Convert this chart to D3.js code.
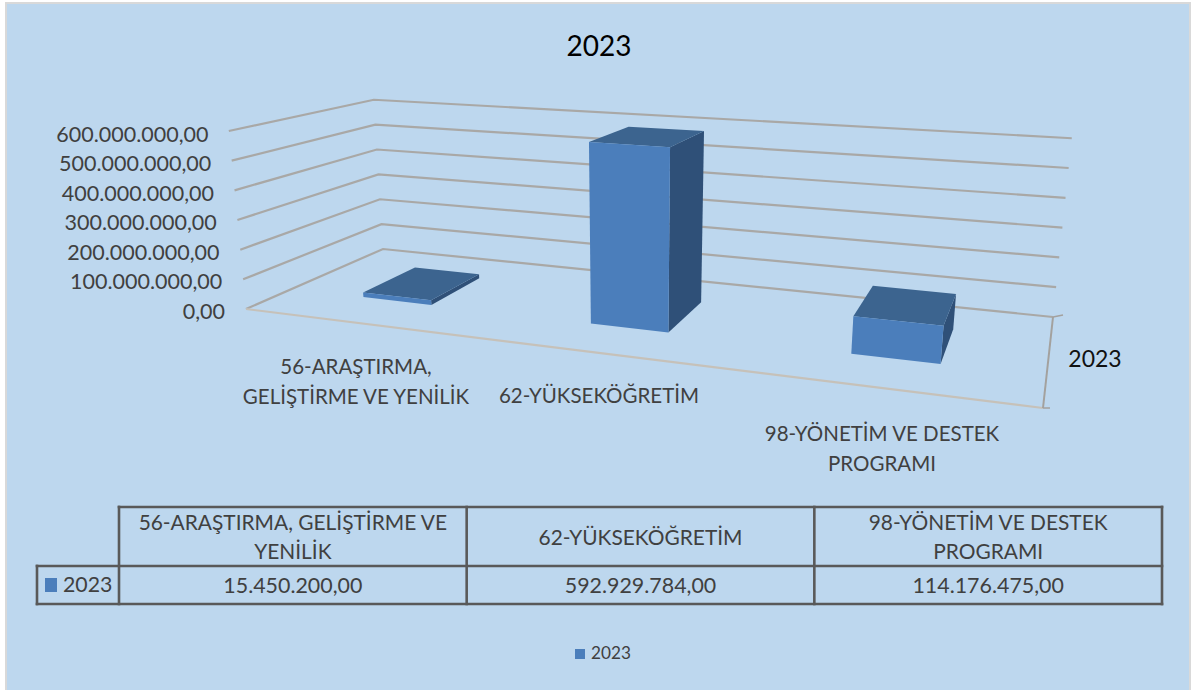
<!DOCTYPE html>
<html><head><meta charset="utf-8">
<script src="https://cdnjs.cloudflare.com/ajax/libs/d3/7.8.5/d3.min.js"></script>
<style>
html,body{margin:0;padding:0;background:#fff}
svg{display:block}
text{font-family:Lato,"Open Sans",sans-serif}
</style></head><body>
<svg id="c" width="1192" height="690"></svg>
<script>
const chartTitle = "2023";
const seriesName = "2023";
const categories = ["56-ARAŞTIRMA, GELİŞTİRME VE YENİLİK","62-YÜKSEKÖĞRETİM","98-YÖNETİM VE DESTEK PROGRAMI"];
const axisLabelLines = [["56-ARAŞTIRMA,","GELİŞTİRME VE YENİLİK"],["62-YÜKSEKÖĞRETİM"],["98-YÖNETİM VE DESTEK","PROGRAMI"]];
const tableHeaderLines = [["56-ARAŞTIRMA, GELİŞTİRME VE","YENİLİK"],["62-YÜKSEKÖĞRETİM"],["98-YÖNETİM VE DESTEK","PROGRAMI"]];
const values = [15450200, 592929784, 114176475];
const valueMax = 600000000;

const svg = d3.select("#c");
const fmt = d3.formatLocale({decimal:",",thousands:".",grouping:[3],currency:["",""]}).format(",.2f");

// frame
svg.append("rect").attr("x",6).attr("y",3).attr("width",1184).attr("height",690)
  .attr("fill","#bdd7ee").attr("stroke","#d9d9d9").attr("stroke-width",2);

// 3D projection: floor homography, verticals converge on a vanishing point below the chart
function homography(p00,p10,p11,p01){
  const dx1=p10[0]-p11[0],dx2=p01[0]-p11[0],sx=p00[0]-p10[0]+p11[0]-p01[0];
  const dy1=p10[1]-p11[1],dy2=p01[1]-p11[1],sy=p00[1]-p10[1]+p11[1]-p01[1];
  const den=dx1*dy2-dx2*dy1;
  const g=(sx*dy2-dx2*sy)/den,h=(dx1*sy-sx*dy1)/den;
  const a=p10[0]-p00[0]+g*p10[0],b=p01[0]-p00[0]+h*p01[0],c=p00[0];
  const d=p10[1]-p00[1]+g*p10[1],e=p01[1]-p00[1]+h*p01[1],f=p00[1];
  return (u,v)=>{const w=g*u+h*v+1;return [(a*u+b*v+c)/w,(d*u+e*v+f)/w,w];};
}
const floorH = homography([246,309],[1043,408],[1053,317],[383,249]);
const vanish = [633,4316];

const xBand = d3.scaleBand().domain(categories).range([-0.001,0.997]).paddingInner(0.6875).paddingOuter(0.34375);
const depth = d3.scaleLinear().domain([0,1]).range([0.3,0.71]);
const yVal  = d3.scaleLinear().domain([0,valueMax]).range([0,178]);
const proj = (u,v,val)=>{
  const [x,y,w]=floorH(u,v), h=yVal(val)/w;
  return [x+h*(x-vanish[0])/(vanish[1]-y),y-h];
};
const line = d3.line();
const ticks = yVal.ticks(6);

// gridlines
const gridG = svg.append("g").attr("fill","none").attr("stroke","#a9a8a6").attr("stroke-width",2.2);
gridG.selectAll("path").data(ticks).join("path")
  .attr("d",t=>line([proj(0,0,t),proj(0,1,t),proj(1,1,t)]));
// floor front edge and depth axis
svg.append("path").attr("d",line([proj(0,0,0),proj(1,0,0)])).attr("fill","none").attr("stroke","#c6c1b9").attr("stroke-width",2.2);
const fr=proj(1,0,0), br=proj(1,1,0);
svg.append("path").attr("d",line([br,fr])).attr("fill","none").attr("stroke","#a3a19e").attr("stroke-width",2);
svg.append("path").attr("d",line([br,[br[0]+10,br[1]-2]])).attr("fill","none").attr("stroke","#a3a19e").attr("stroke-width",1.5);
svg.append("path").attr("d",line([fr,[fr[0]+7,fr[1]]])).attr("fill","none").attr("stroke","#a3a19e").attr("stroke-width",1.5);

// value tick labels follow the slanted front edge of the wall
const tickLabelY = d3.scaleLinear().domain([0,valueMax]).range([311,134]);
const tickLabelX = d3.scaleLinear().domain([0,valueMax]).range([225,208.5]);
svg.append("g").attr("font-size",21.5).attr("fill","#404040").attr("text-anchor","end")
  .selectAll("text").data(ticks).join("text")
  .attr("x",t=>tickLabelX(t)).attr("y",t=>tickLabelY(t)).attr("dy","0.35em")
  .text(t=>fmt(t));

// bars
const bars = svg.append("g").selectAll("g").data(categories).join("g");
bars.each(function(cat,i){
  const u0=xBand(cat),u1=u0+xBand.bandwidth(),v0=depth(0),v1=depth(1),val=values[i];
  const g=d3.select(this);
  const P=(u,v,w)=>proj(u,v,w);
  g.append("path").attr("fill","#2f5078").attr("d",line([P(u1,v0,0),P(u1,v1,0),P(u1,v1,val),P(u1,v0,val)])+"Z");
  g.append("path").attr("fill","#3c648f").attr("d",line([P(u0,v0,val),P(u1,v0,val),P(u1,v1,val),P(u0,v1,val)])+"Z");
  g.append("path").attr("fill","#4b7ebb").attr("d",line([P(u0,v0,0),P(u1,v0,0),P(u1,v0,val),P(u0,v0,val)])+"Z");
});

// title
svg.append("text").attr("x",599).attr("y",46).attr("dy","0.35em").attr("text-anchor","middle")
  .attr("font-size",28).attr("fill","#000").text(chartTitle);
// series axis label
svg.append("text").attr("x",1095).attr("y",359).attr("dy","0.35em").attr("text-anchor","middle")
  .attr("font-size",23).attr("fill","#111").text(seriesName);

// category labels
const catPos=[[356,367],[599,396],[882,434]];
const catG=svg.append("g").attr("font-size",20.5).attr("fill","#404040").attr("text-anchor","middle");
axisLabelLines.forEach((lines,i)=>lines.forEach((l,j)=>{
  catG.append("text").attr("x",catPos[i][0]).attr("y",catPos[i][1]+j*29.5).attr("dy","0.35em").text(l);
}));

// data table
const colX=d3.scaleBand().domain(categories).range([119,1162]);
const tb=svg.append("g").attr("stroke","#595959").attr("stroke-width",2.6).attr("fill","none").attr("stroke-linecap","square");
const rowY=[507,566,604];
tb.append("path").attr("d",line([[119,rowY[0]],[1162,rowY[0]]]));
tb.append("path").attr("d",line([[37,rowY[1]],[1162,rowY[1]]]));
tb.append("path").attr("d",line([[37,rowY[2]],[1162,rowY[2]]]));
tb.append("path").attr("d",line([[37,rowY[1]],[37,rowY[2]]]));
categories.forEach(c=>{
  tb.append("path").attr("d",line([[colX(c),rowY[0]],[colX(c),rowY[2]]]));
});
tb.append("path").attr("d",line([[1162,rowY[0]],[1162,rowY[2]]]));
const tt=svg.append("g").attr("fill","#404040").attr("text-anchor","middle");
categories.forEach((c,i)=>{
  const cx=colX(c)+colX.bandwidth()/2, ls=tableHeaderLines[i];
  ls.forEach((l,j)=>tt.append("text").attr("font-size",20.9).attr("x",cx).attr("y",(rowY[0]+rowY[1])/2+1+(j-(ls.length-1)/2)*29).attr("dy","0.35em").text(l));
  tt.append("text").attr("font-size",21.4).attr("x",cx).attr("y",(rowY[1]+rowY[2])/2+1).attr("dy","0.35em").text(fmt(values[i]));
});
svg.append("rect").attr("x",45).attr("y",578).attr("width",12).attr("height",14).attr("fill","#4b7ebb");
svg.append("text").attr("x",63).attr("y",585).attr("dy","0.35em").attr("font-size",21.3).attr("fill","#404040").text(seriesName);

// legend
svg.append("rect").attr("x",575).attr("y",649).attr("width",10).attr("height",10).attr("fill","#4b7ebb");
svg.append("text").attr("x",591).attr("y",653).attr("dy","0.35em").attr("font-size",17.2).attr("fill","#404040").text(seriesName);
</script></body></html>
